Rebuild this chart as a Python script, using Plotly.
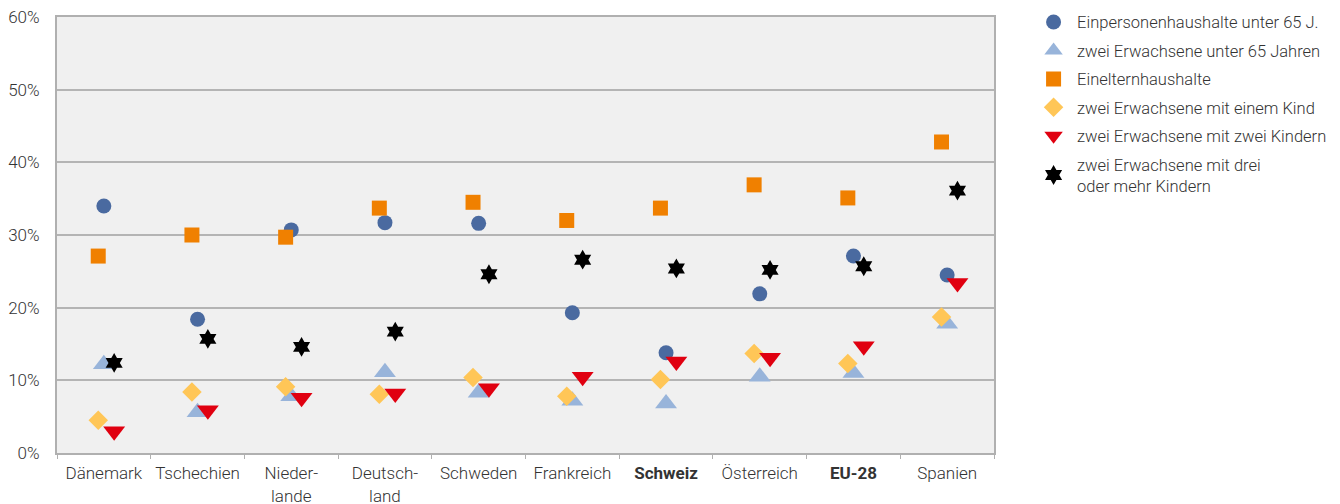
import plotly.graph_objects as go

categories = ["Dänemark", "Tschechien", "Nieder-<br>lande", "Deutsch-<br>land", "Schweden",
              "Frankreich", "<b>Schweiz</b>", "Österreich", "<b>EU-28</b>", "Spanien"]

einpersonen = [34.0, 18.4, 30.7, 31.7, 31.6, 19.3, 13.8, 21.9, 27.1, 24.5]
zwei_erw_u65 = [12.2, 5.6, 7.8, 11.1, 8.3, 7.2, 6.8, 10.5, 11.0, 17.8]
einelternhaushalte = [27.1, 30.0, 29.7, 33.7, 34.5, 32.0, 33.7, 36.9, 35.1, 42.8]
mit_einem_kind = [4.5, 8.4, 9.1, 8.1, 10.4, 7.8, 10.1, 13.7, 12.3, 18.7]
mit_zwei_kindern = [3.0, 5.9, 7.6, 8.2, 8.9, 10.5, 12.6, 13.1, 14.7, 23.4]
mit_drei_kindern = [12.4, 15.7, 14.6, 16.7, 24.6, 26.6, 25.4, 25.2, 25.7, 36.1]

series = [
    ("Einpersonenhaushalte unter 65 J.", einpersonen, "circle", "#4a6aa0", 15, 0.0),
    ("zwei Erwachsene unter 65 Jahren", zwei_erw_u65, "triangle-up", "#98b4da", 19, 0.0),
    ("Einelternhaushalte", einelternhaushalte, "square", "#f08000", 15, -0.06),
    ("zwei Erwachsene mit einem Kind", mit_einem_kind, "diamond", "#ffc657", 15, -0.06),
    ("zwei Erwachsene mit zwei Kindern", mit_zwei_kindern, "triangle-down", "#e00010", 19, 0.11),
    ("zwei Erwachsene mit drei<br>oder mehr Kindern", mit_drei_kindern, "hexagram", "#000000", 15, 0.11),
]

fig = go.Figure()
idx = list(range(len(categories)))
for k, (name, vals, sym, col, size, off) in enumerate(series):
    fig.add_trace(go.Scatter(
        x=[i + off for i in idx], y=vals, mode="markers", name=name,
        legendgroup=f"g{k}",
        marker=dict(symbol=sym, color=col, size=size, line=dict(width=0)),
    ))

tfont = dict(family="Roboto", size=17, color="#333333", weight=300)

fig.update_layout(
    width=1340, height=504,
    margin=dict(l=49, r=354, t=9, b=59, autoexpand=False),
    paper_bgcolor="white", plot_bgcolor="#f0f0f0",
    font=tfont,
    showlegend=True,
    legend=dict(x=1.0385, y=1.028, xanchor="left", yanchor="top",
                font=dict(family="Roboto", size=16.5, color="#333333", weight=300),
                itemwidth=37, tracegroupgap=4, bgcolor="rgba(0,0,0,0)"),
    xaxis=dict(
        range=[-0.5, 9.5], tickmode="array", tickvals=idx, ticktext=categories,
        ticks="", showgrid=False, zeroline=False, automargin=False,
        showline=True, linecolor="#b0b0b0", linewidth=2, mirror=True,
        minor=dict(ticks="outside", ticklen=4, tickcolor="#b0b0b0", tickwidth=1,
                   tick0=-0.5, dtick=1, showgrid=False),
        ticklabelstandoff=4, ticklabeloverflow="allow",
        tickfont=tfont,
    ),
    yaxis=dict(
        range=[0, 60], tickvals=[0, 10, 20, 30, 40, 50, 60],
        ticktext=["0%", "10%", "20%", "30%", "40%", "50%", "60%"],
        showgrid=True, gridcolor="#b4b4b4", gridwidth=2, zeroline=False, automargin=False,
        showline=True, linecolor="#b0b0b0", linewidth=2, mirror=True,
        ticks="", ticklabelstandoff=12, ticklabeloverflow="allow",
        tickfont=tfont,
    ),
)

fig.write_html("out.html")
